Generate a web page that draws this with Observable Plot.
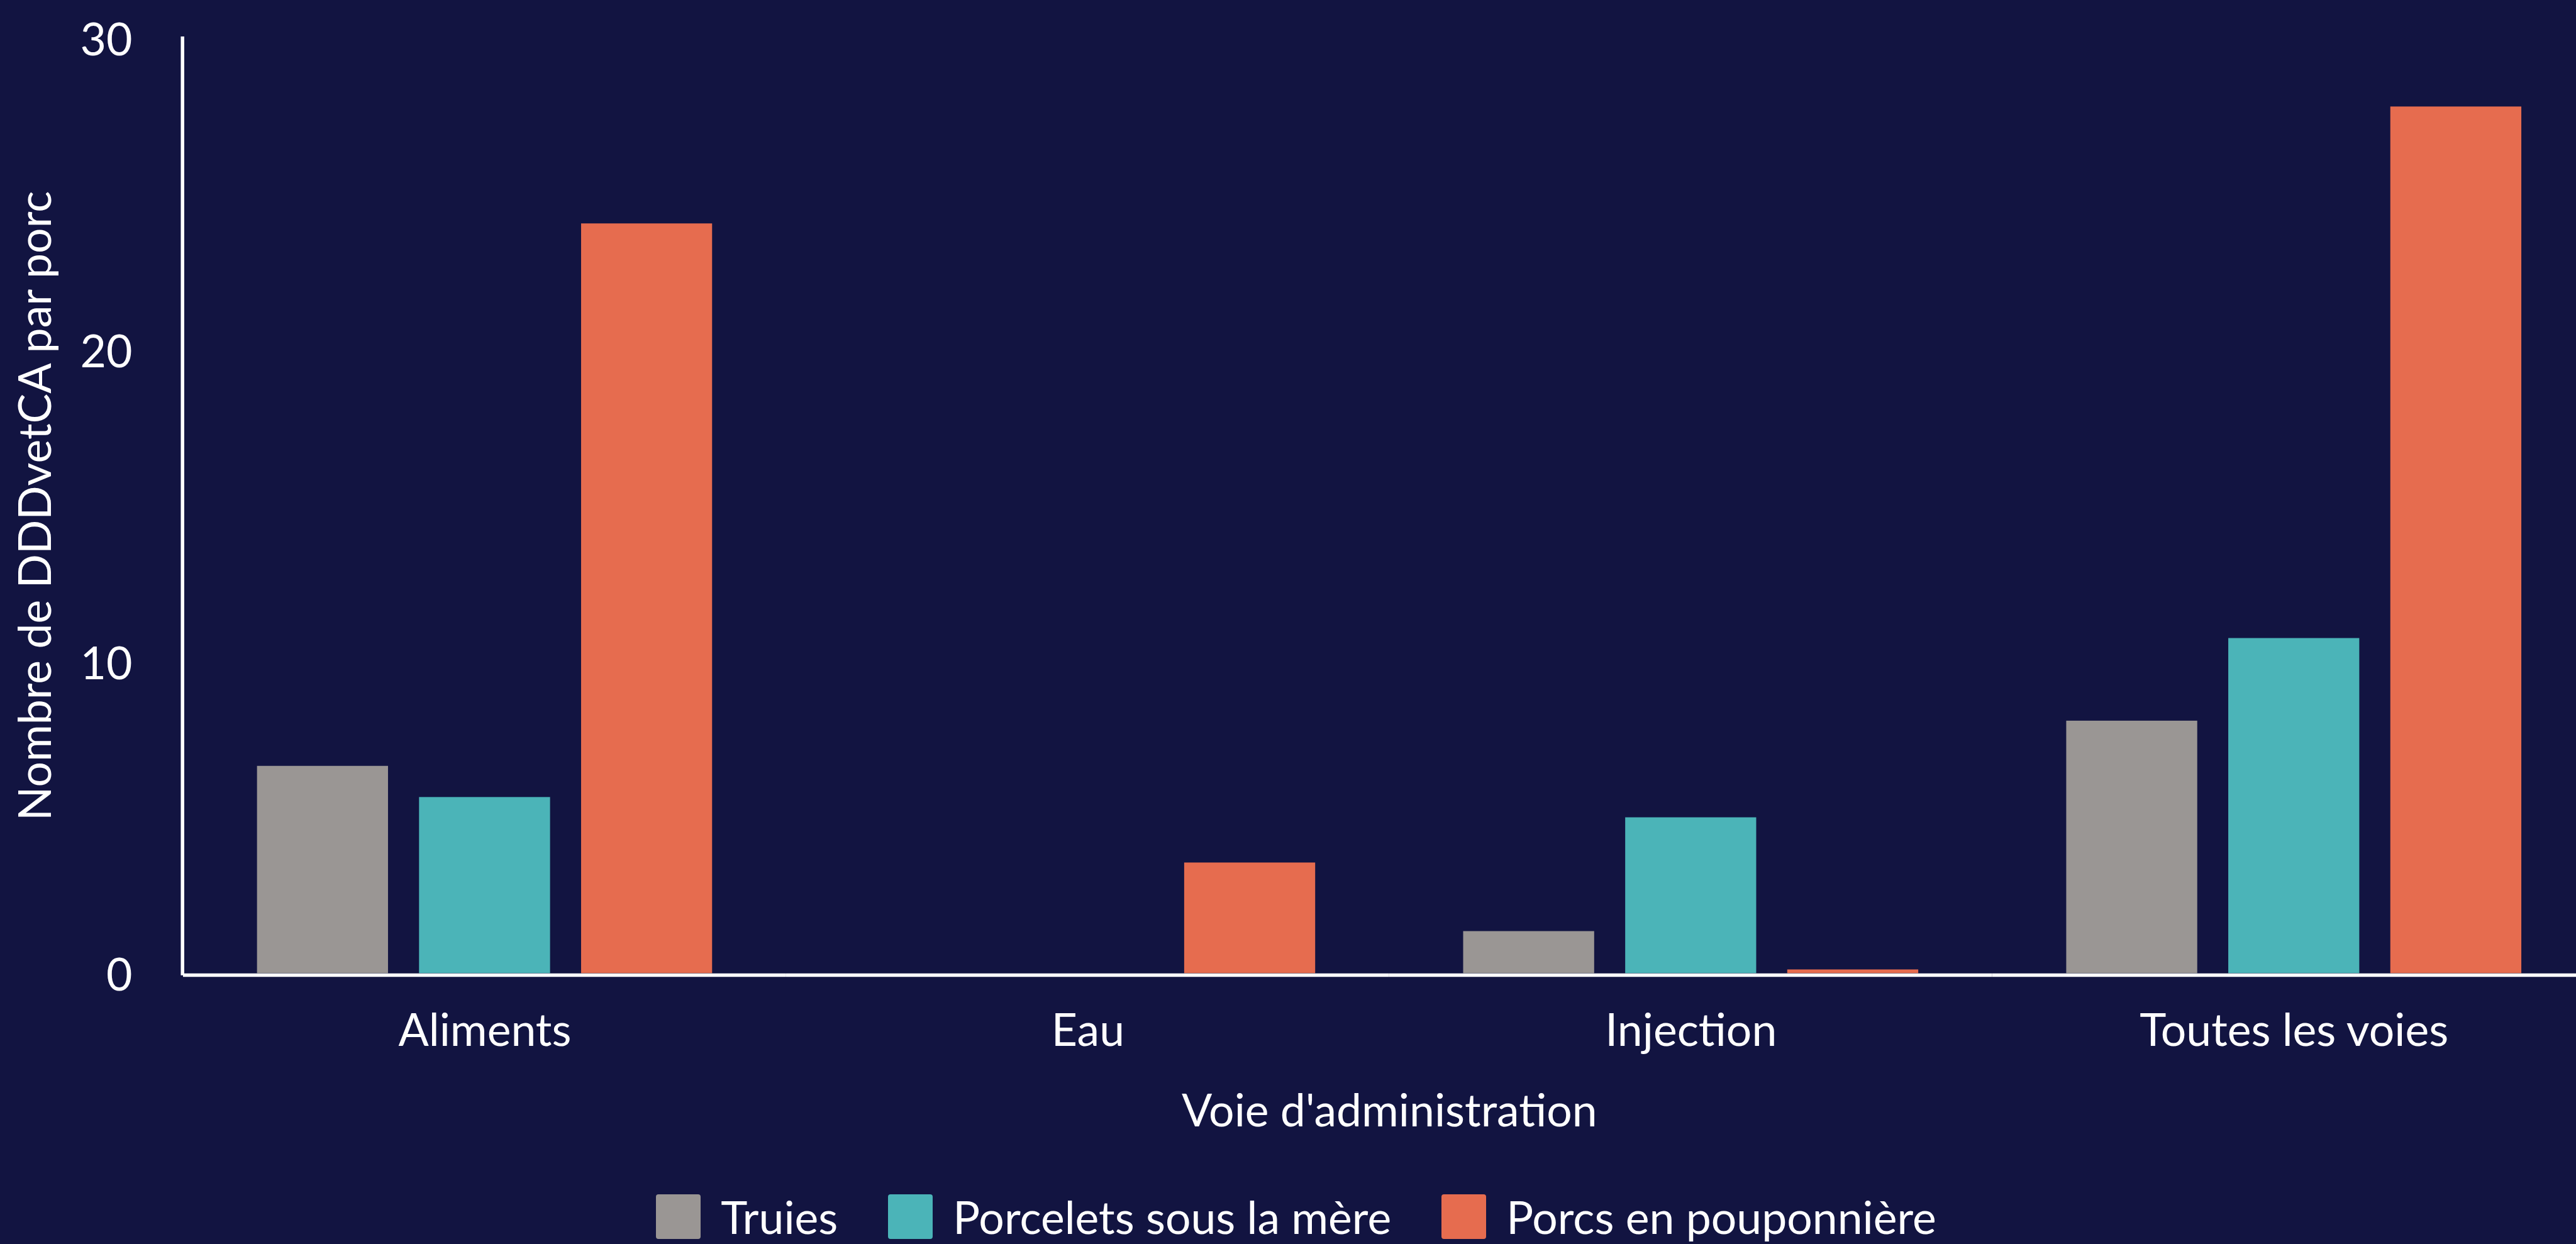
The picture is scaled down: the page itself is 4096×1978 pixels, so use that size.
<!DOCTYPE html>
<html>
<head>
<meta charset="utf-8">
<script src="https://cdn.jsdelivr.net/npm/d3@7"></script>
<script src="https://cdn.jsdelivr.net/npm/@observablehq/plot@0.6"></script>
<style>
  html, body { margin: 0; padding: 0; background: #121441; overflow: hidden; }
  body { width: 4096px; height: 1978px; font-family: Lato, sans-serif; color: #fff; }
  #chart svg { display: block; }
  #legend { display: flex; justify-content: center; align-items: center; height: 71.5px;
            font-size: 71.5px; line-height: 1; padding-left: 26px; white-space: nowrap; }
  .item { display: flex; align-items: center; margin: 0 40px; }
  .sw { width: 71px; height: 71px; border-radius: 4px; margin-right: 32px; }
</style>
</head>
<body>
<div id="chart"></div>
<div id="legend"></div>
<script>
// ---- data ----
const routes = ["Aliments", "Eau", "Injection", "Toutes les voies"];
const series = ["Truies", "Porcelets sous la mère", "Porcs en pouponnière"];
const truies = [6.65, 0, 1.35, 8.1];
const porcelets = [5.65, 0, 5.0, 10.75];
const porcs = [24.05, 3.55, 0.12, 27.8];
const colors = ["#9a9694", "#4bb4b8", "#e66c4f"];
const yTicks = [0, 10, 20, 30];
const yLabel = "Nombre de DDDvetCA par porc";
const xLabel = "Voie d'administration";

const valuesBySeries = [truies, porcelets, porcs];
const data = [];
routes.forEach((r, i) => series.forEach((s, j) => data.push({route: r, series: s, value: valuesBySeries[j][i]})));

const plot = Plot.plot({
  width: 4096,
  height: 1899,
  marginLeft: 291,
  marginRight: -30.7,
  marginTop: 60.3,
  marginBottom: 351.6,
  style: {background: "#121441", color: "#fff", fontFamily: "Lato, sans-serif", fontSize: "71.5px", overflow: "visible"},
  fx: {domain: routes, paddingInner: 0, paddingOuter: 0, round: false},
  x: {domain: series, paddingInner: 0.1915, paddingOuter: 0.4566, round: false, axis: null},
  y: {domain: [0, 30]},
  color: {domain: series, range: colors},
  marks: [
    Plot.barY(data, {fx: "route", x: "series", y: "value", fill: "series"}),
    Plot.ruleY([0], {stroke: "#fff", strokeWidth: 5.5, dy: 2.7}),
    Plot.frame({anchor: "left", stroke: "#fff", strokeWidth: 5.5, facetAnchor: "left", dx: -1.3}),
    Plot.axisY({ticks: yTicks, tickSize: 0, tickPadding: 81, dy: 4.7, label: yLabel, labelArrow: "none", labelAnchor: "center", labelOffset: 261}),
    Plot.axisFx({anchor: "bottom", tickSize: 0, tickPadding: 64, label: xLabel, labelArrow: "none", labelAnchor: "center", labelOffset: 243})
  ]
});
document.getElementById("chart").appendChild(plot);

const color = plot.scale("color");
const legend = document.getElementById("legend");
series.forEach((s, j) => {
  const item = document.createElement("div");
  item.className = "item";
  const sw = document.createElement("div");
  sw.className = "sw";
  sw.style.background = color.range[j];
  const t = document.createElement("span");
  t.textContent = s;
  item.appendChild(sw);
  item.appendChild(t);
  legend.appendChild(item);
});
</script>
</body>
</html>
